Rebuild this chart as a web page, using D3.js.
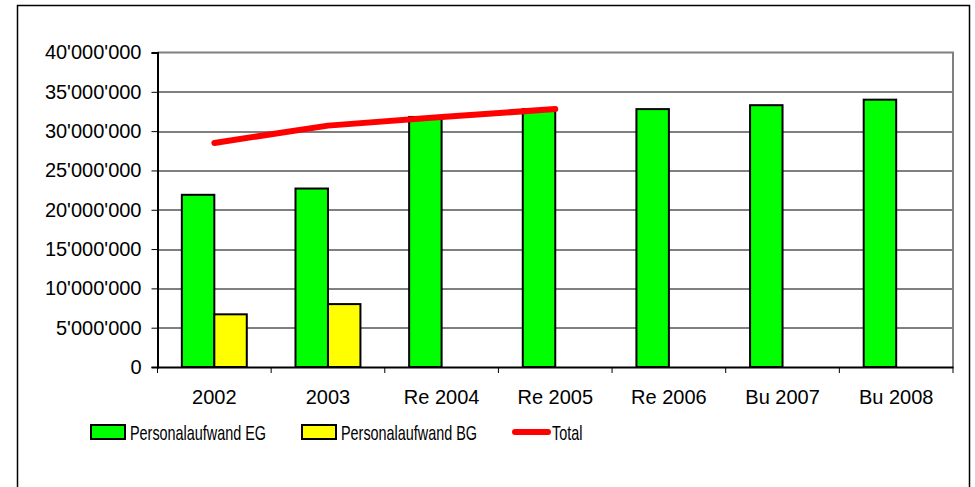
<!DOCTYPE html>
<html>
<head>
<meta charset="utf-8">
<script src="https://cdn.jsdelivr.net/npm/d3@7"></script>
<style>
  body { margin: 0; background: #fff; }
  text { font-family: "Liberation Sans", Arial, sans-serif; fill: #000; }
</style>
</head>
<body>
<div id="chart"></div>
<script>
// chart values
const categories = ["2002", "2003", "Re 2004", "Re 2005", "Re 2006", "Bu 2007", "Bu 2008"];
const personalEG = [21900000, 22700000, 31800000, 32800000, 32800000, 33300000, 34000000];
const personalBG = [6700000, 8000000, null, null, null, null, null];
const total = [28500000, 30700000, 31800000, 32800000, null, null, null];
const yTicks = [0, 5000000, 10000000, 15000000, 20000000, 25000000, 30000000, 35000000, 40000000];
const legendLabels = ["Personalaufwand EG", "Personalaufwand BG", "Total"];

const width = 975, height = 487;
const margin = { top: 52.5, right: 22, bottom: 120, left: 157.5 };
const plotW = 953 - margin.left;
const plotH = 367 - margin.top;

const svg = d3.select("#chart").append("svg")
  .attr("width", width)
  .attr("height", height);

// outer frame
svg.append("rect")
  .attr("x", 17.5).attr("y", 5.5)
  .attr("width", 952).attr("height", 500)
  .attr("fill", "none")
  .attr("stroke", "#000")
  .attr("stroke-width", 1.5);

const g = svg.append("g")
  .attr("transform", `translate(${margin.left},${margin.top})`);

const x = d3.scaleBand().domain(categories).range([0, plotW]).padding(0);
const x1 = d3.scaleBand().domain(["eg", "bg"]).range([0, x.bandwidth()])
  .paddingInner(0).paddingOuter(0.75);
const y = d3.scaleLinear().domain([0, 40000000]).range([plotH, 0]);

const locale = d3.formatLocale({ decimal: ".", thousands: "'", grouping: [3], currency: ["", ""] });
const fmt = locale.format(",");

// gridlines
g.selectAll("line.grid")
  .data(yTicks.filter(d => d > 0 && d < 40000000))
  .enter().append("line")
  .attr("class", "grid")
  .attr("x1", 0).attr("x2", plotW)
  .attr("y1", d => Math.round(y(d)) + 0.5)
  .attr("y2", d => Math.round(y(d)) + 0.5)
  .attr("stroke", "#000")
  .attr("stroke-width", 1);

// plot border top/right (grey)
g.append("path")
  .attr("d", `M0,0 H${plotW} V${plotH}`)
  .attr("fill", "none")
  .attr("stroke", "#808080")
  .attr("stroke-width", 2);

// bars
const bars = [];
categories.forEach((c, i) => {
  if (personalEG[i] != null) bars.push({ cat: c, key: "eg", value: personalEG[i] });
  if (personalBG[i] != null) bars.push({ cat: c, key: "bg", value: personalBG[i] });
});
const fills = { eg: "#00ff00", bg: "#ffff00" };

g.selectAll("rect.bar")
  .data(bars)
  .enter().append("rect")
  .attr("class", "bar")
  .attr("x", d => x(d.cat) + x1(d.key))
  .attr("y", d => y(d.value))
  .attr("width", x1.bandwidth())
  .attr("height", d => plotH - y(d.value))
  .attr("fill", d => fills[d.key])
  .attr("stroke", "#000")
  .attr("stroke-width", 2);

// y axis
const yAxis = g.append("g")
  .call(d3.axisLeft(y).tickValues(yTicks).tickSize(6).tickPadding(10).tickFormat(fmt));
yAxis.select(".domain").attr("stroke", "#000").attr("stroke-width", 2);
yAxis.selectAll(".tick line").attr("stroke", "#000");
yAxis.selectAll("text")
  .attr("font-size", 20)
  .attr("font-family", "Liberation Sans, Arial, sans-serif");

// x axis
const xAxis = g.append("g")
  .attr("transform", `translate(0,${plotH})`)
  .call(d3.axisBottom(x).tickSize(0).tickPadding(23));
xAxis.select(".domain").attr("stroke", "#000").attr("stroke-width", 2);
xAxis.selectAll("text")
  .attr("font-size", 20)
  .attr("font-family", "Liberation Sans, Arial, sans-serif");
// category separators
xAxis.selectAll("line.sep")
  .data(categories.concat(["end"]))
  .enter().append("line")
  .attr("class", "sep")
  .attr("x1", (d, i) => i * x.step())
  .attr("x2", (d, i) => i * x.step())
  .attr("y1", 0).attr("y2", 6)
  .attr("stroke", "#000");

// total line
const line = d3.line()
  .defined(d => d.value != null)
  .x(d => x(d.cat) + x.bandwidth() / 2)
  .y(d => y(d.value));

g.append("path")
  .datum(categories.map((c, i) => ({ cat: c, value: total[i] })))
  .attr("d", line)
  .attr("fill", "none")
  .attr("stroke", "#ff0000")
  .attr("stroke-width", 6)
  .attr("stroke-linecap", "round")
  .attr("stroke-linejoin", "round");

// legend
const legend = svg.append("g");
const legendX = [91, 302, 512];
const legendY = 432;

legend.append("rect")
  .attr("x", legendX[0]).attr("y", legendY - 7)
  .attr("width", 34).attr("height", 14)
  .attr("fill", fills.eg).attr("stroke", "#000").attr("stroke-width", 2);
legend.append("rect")
  .attr("x", legendX[1]).attr("y", legendY - 7)
  .attr("width", 34).attr("height", 14)
  .attr("fill", fills.bg).attr("stroke", "#000").attr("stroke-width", 2);
legend.append("line")
  .attr("x1", legendX[2] + 3).attr("x2", legendX[2] + 36)
  .attr("y1", legendY).attr("y2", legendY)
  .attr("stroke", "#ff0000").attr("stroke-width", 6)
  .attr("stroke-linecap", "round");

const textX = [130, 341, 552];
legend.selectAll("text.leg")
  .data(legendLabels)
  .enter().append("text")
  .attr("class", "leg")
  .attr("transform", (d, i) => `translate(${textX[i]},${legendY + 7.5}) scale(0.72,1)`)
  .attr("font-size", 20)
  .text(d => d);
</script>
</body>
</html>
